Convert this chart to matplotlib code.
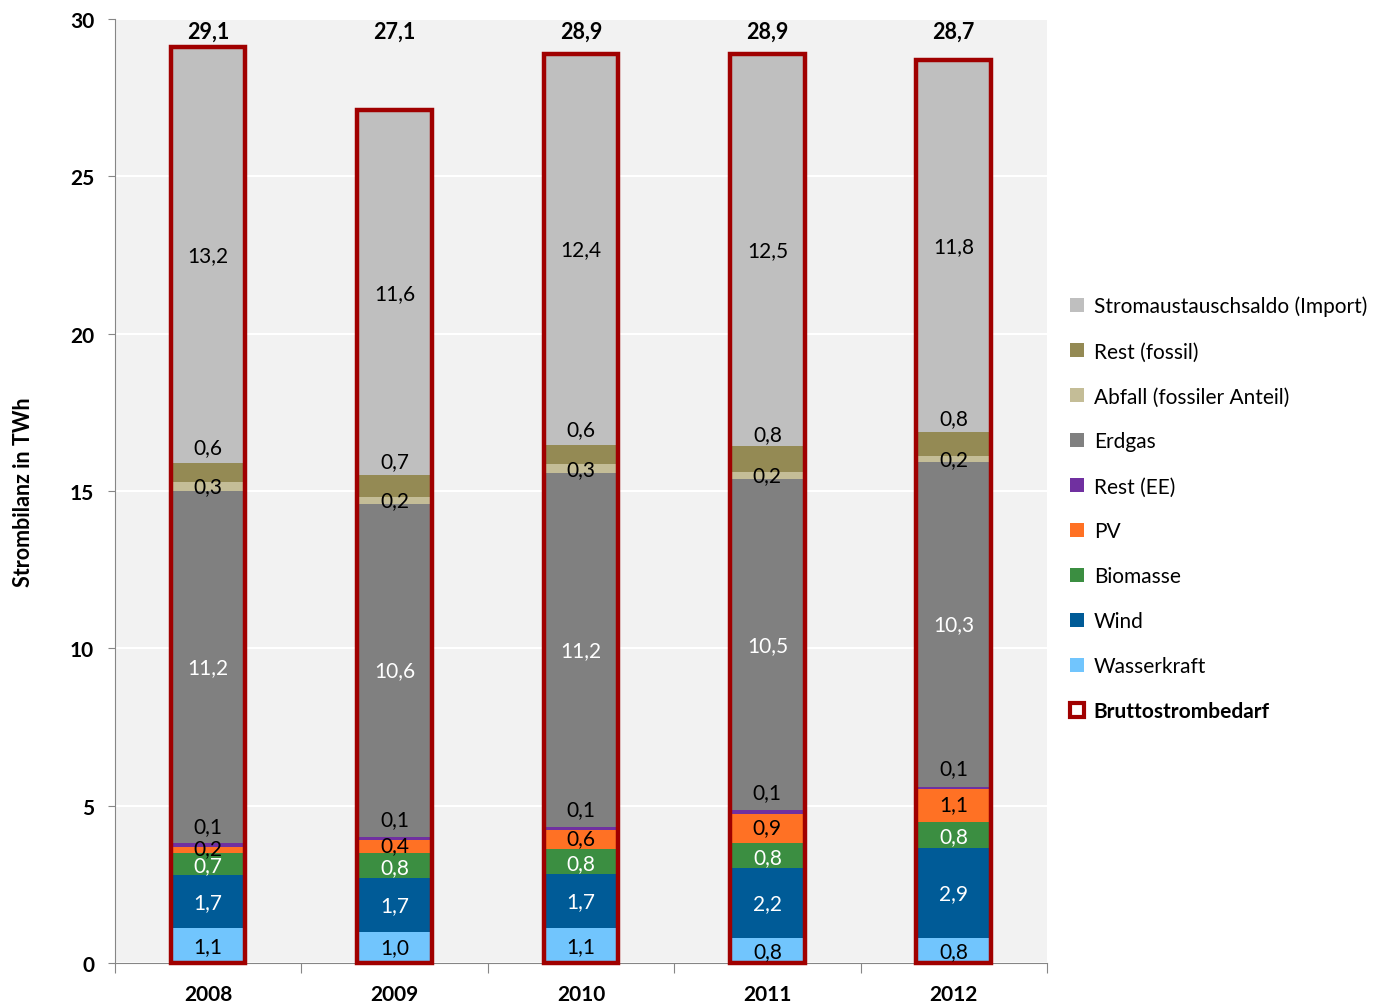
import numpy as np
import matplotlib
matplotlib.use("Agg")
import matplotlib.pyplot as plt
from matplotlib.patches import Patch

plt.rcParams['font.family'] = ['Lato', 'DejaVu Sans']

years = ['2008', '2009', '2010', '2011', '2012']

# stacked from bottom to top
wasserkraft = [1.1, 1.0, 1.1, 0.78, 0.78]
wind = [1.7, 1.7, 1.72, 2.23, 2.88]
biomasse = [0.7, 0.8, 0.8, 0.8, 0.82]
pv = [0.2, 0.4, 0.6, 0.94, 1.05]
rest_ee = [0.1, 0.1, 0.1, 0.1, 0.08]
erdgas = [11.2, 10.6, 11.24, 10.53, 10.3]
abfall = [0.3, 0.2, 0.3, 0.24, 0.22]
rest_fossil = [0.6, 0.7, 0.6, 0.8, 0.76]
import_saldo = [13.2, 11.6, 12.43, 12.48, 11.76]
brutto = [29.1, 27.1, 28.9, 28.9, 28.7]

series = [
    ('Wasserkraft', wasserkraft, '#71c5fd', 'black', 0),
    ('Wind', wind, '#005b97', 'white', 0),
    ('Biomasse', biomasse, '#3b8e41', 'white', -1),
    ('PV', pv, '#ff7124', 'black', 1),
    ('Rest (EE)', rest_ee, '#7030a0', 'black', 14),
    ('Erdgas', erdgas, '#808080', 'white', 0),
    ('Abfall (fossiler Anteil)', abfall, '#c4bd97', 'black', 0),
    ('Rest (fossil)', rest_fossil, '#948a54', 'black', 18),
    ('Stromaustauschsaldo (Import)', import_saldo, '#bfbfbf', 'black', 0),
]

fig = plt.figure(figsize=(13.92, 10.04), dpi=100)
ax = fig.add_axes([0.0826, 0.0398, 0.6695, 0.9402])
ax.set_facecolor('#f2f2f2')

x = np.arange(len(years))
width = 0.4
bottom = np.zeros(len(years))
handles = []
for name, vals, color, tcolor, off in series:
    vals = np.array(vals)
    ax.bar(x, vals, width, bottom=bottom, color=color, zorder=2)
    for i in range(len(years)):
        lbl = f"{vals[i]:.1f}".replace('.', ',')
        ax.annotate(lbl, (x[i], bottom[i] + vals[i] / 2), xytext=(0, off),
                    textcoords='offset points', ha='center', va='center',
                    fontsize=15, color=tcolor, zorder=4)
    bottom += vals
    handles.append(Patch(facecolor=color, label=name))

# Bruttostrombedarf outline
ax.bar(x, brutto, width, fill=False, edgecolor='#a00000', linewidth=3.2, zorder=3, clip_on=False)
for i in range(len(years)):
    ax.text(x[i], 29.6, f"{brutto[i]:.1f}".replace('.', ','), ha='center', va='center',
            fontsize=15.5, fontweight='bold', zorder=4)

ax.set_ylim(0, 30)
ax.set_xlim(-0.5, len(years) - 0.5)
ax.set_yticks(np.arange(0, 31, 5))
ax.yaxis.grid(True, color='white', linewidth=1.5, zorder=0)
ax.set_axisbelow(True)
ax.tick_params(axis='y', labelsize=15, length=5, pad=10, color='#868686')
for t in ax.get_yticklabels():
    t.set_fontweight('bold')

ax.set_xticks(np.arange(-0.5, len(years)), minor=False)
ax.set_xticklabels([])
ax.set_xticks(x, minor=True)
ax.set_xticklabels(years, minor=True, fontsize=15, fontweight='bold')
ax.tick_params(axis='x', which='major', length=7, color='#868686')
ax.tick_params(axis='x', which='minor', length=0, pad=15)

for s in ['top', 'right']:
    ax.spines[s].set_visible(False)
for s in ['left', 'bottom']:
    ax.spines[s].set_color('#868686')

ax.set_ylabel('Strombilanz in TWh', fontsize=15.5, fontweight='bold', labelpad=26)

handles = handles[::-1]
handles.append(Patch(facecolor='white', edgecolor='#a00000', linewidth=3, label='Bruttostrombedarf'))
leg = fig.legend(handles=handles, loc='upper left', bbox_to_anchor=(0.755, 0.723),
                 frameon=False, fontsize=15, labelspacing=1.2, handlelength=0.7,
                 handleheight=0.7, handletextpad=0.45)
leg.get_texts()[-1].set_fontweight('bold')

plt.savefig('out.png')
